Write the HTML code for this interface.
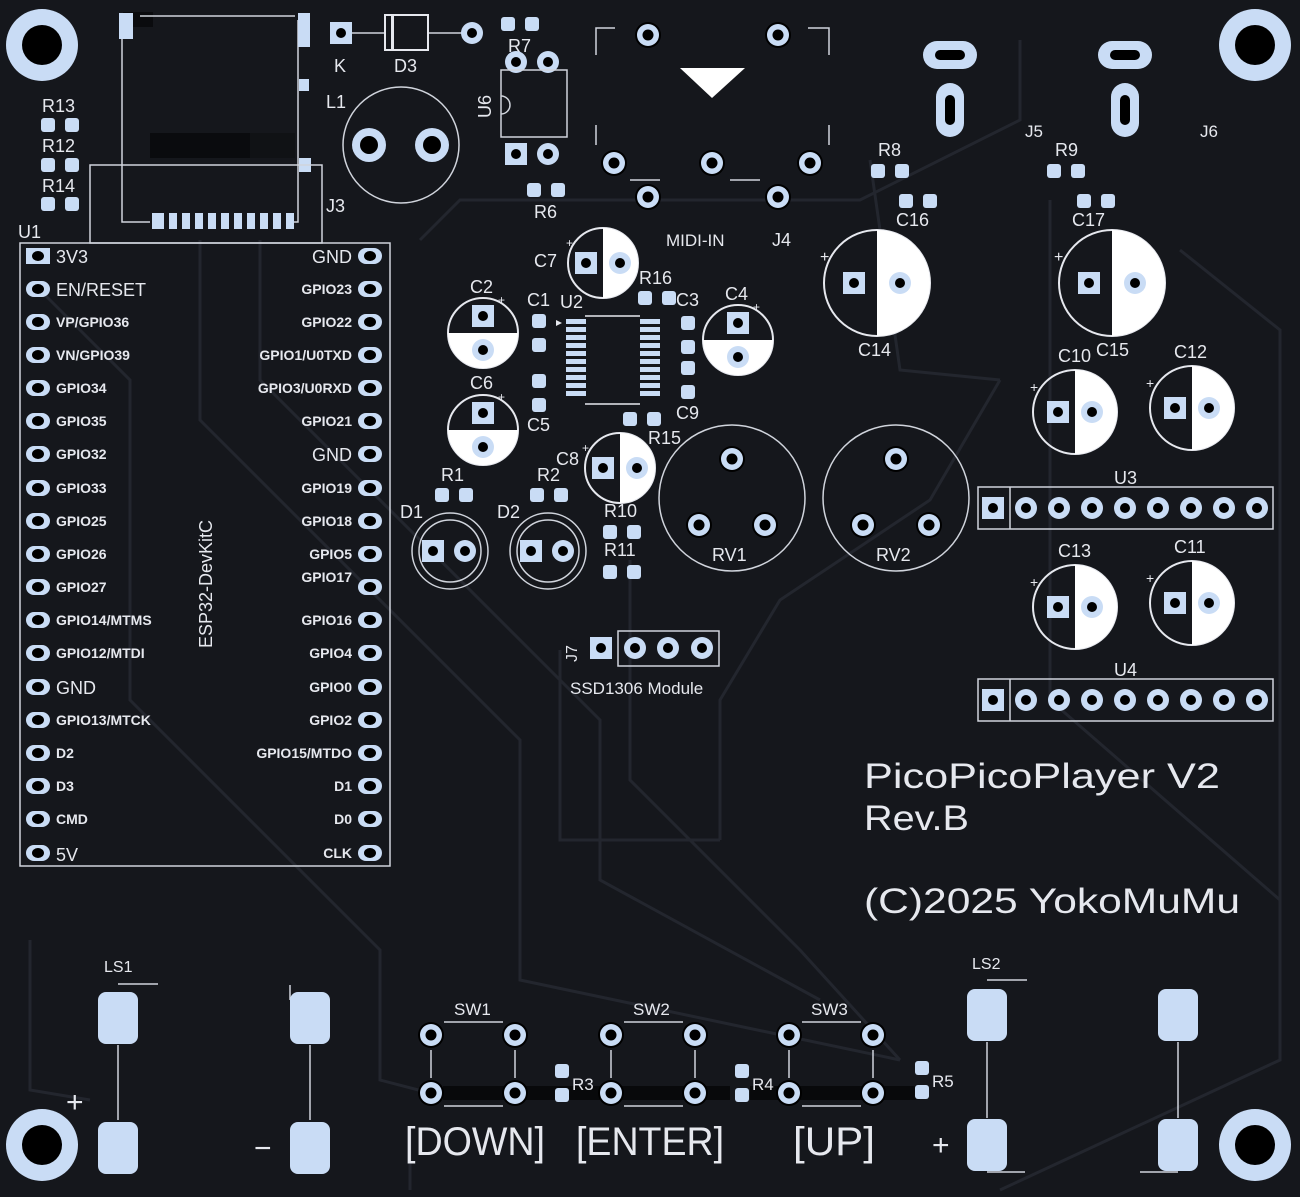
<!DOCTYPE html>
<html><head><meta charset="utf-8"><style>
html,body{margin:0;padding:0;background:#15171c}
svg{display:block}
text{font-family:"Liberation Sans Narrow","Liberation Sans",sans-serif;fill:#e6e8ee}
</style></head><body>
<svg width="1300" height="1197" viewBox="0 0 1300 1197" xmlns="http://www.w3.org/2000/svg">
<defs>
<g id="lp"><rect x="-12" y="-8" width="24" height="16" rx="8" fill="#c9dcf5"/><ellipse rx="6" ry="5" fill="#000"/></g>
<g id="th"><circle r="13" fill="#000"/><circle r="11" fill="#c9dcf5"/><circle r="5.5" fill="#000"/></g>
<g id="sq"><rect x="-11" y="-11" width="22" height="22" fill="#c9dcf5"/><circle r="5" fill="#000"/></g>
<g id="rd"><circle r="11" fill="#c9dcf5"/><circle r="5" fill="#000"/></g>
<g id="rh"><rect x="-19" y="-7" width="14" height="14" rx="3" fill="#c9dcf5"/><rect x="5" y="-7" width="14" height="14" rx="3" fill="#c9dcf5"/></g>
<g id="rv"><rect x="-7" y="-19" width="14" height="14" rx="3" fill="#c9dcf5"/><rect x="-7" y="5" width="14" height="14" rx="3" fill="#c9dcf5"/></g>
<g id="cv"><circle r="35" fill="none" stroke="#e6e8ee" stroke-width="2"/><path d="M-35 0 A35 35 0 0 0 35 0Z" fill="#fff"/><use href="#sq" y="-17"/><use href="#rd" y="17"/></g>
<g id="ch"><circle r="35" fill="none" stroke="#e6e8ee" stroke-width="2"/><path d="M0 -35 A35 35 0 0 1 0 35Z" fill="#fff"/><use href="#sq" x="-17"/><use href="#rd" x="17"/></g>
<g id="ch42"><circle r="42" fill="none" stroke="#e6e8ee" stroke-width="2"/><path d="M0 -42 A42 42 0 0 1 0 42Z" fill="#fff"/><use href="#sq" x="-17"/><use href="#rd" x="17"/></g>
<g id="ch53"><circle r="53" fill="none" stroke="#e6e8ee" stroke-width="2"/><path d="M0 -53 A53 53 0 0 1 0 53Z" fill="#fff"/><use href="#sq" x="-23"/><use href="#rd" x="23"/></g>
<g id="mh"><circle r="36" fill="#c9dcf5"/><circle r="20" fill="#000"/></g>
<g id="sp"><rect x="-20" y="-26" width="40" height="52" rx="8" fill="#c9dcf5"/></g>
</defs>
<rect width="1300" height="1197" fill="#15171c"/>
<!-- faint traces -->
<g stroke="#23262e" stroke-width="3" fill="none">
<path d="M40 290 L130 380 L130 700 L380 950 L380 1080 L430 1093"/>
<path d="M200 240 L200 420 L520 740 L520 980 L900 1060"/>
<path d="M260 240 L260 380 L600 720 L600 880 L820 1000"/>
<path d="M420 240 L460 200 L860 200 L1020 120 L1020 40"/>
<path d="M630 560 L630 780 L800 950 L900 1060"/>
<path d="M1050 200 L1050 700 L1280 900 L1280 1060 L1000 1190"/>
<path d="M720 840 L720 700 L780 600 L930 500 L1000 380"/>
<path d="M870 160 L900 370 L1000 380"/>
<path d="M30 940 L30 1090 L90 1100"/>
<path d="M410 1130 L410 1190"/>
<path d="M1180 250 L1280 330 L1280 900"/>
<path d="M560 650 L560 840 L720 840"/>
</g>
<!-- mounting holes -->
<use href="#mh" x="42" y="45"/><use href="#mh" x="1255" y="45"/>
<use href="#mh" x="42" y="1145"/><use href="#mh" x="1255" y="1145"/>
<!-- SD card -->
<rect x="123" y="12" width="30" height="15" fill="#0a0b0e"/>
<rect x="150" y="133" width="100" height="25" fill="#0a0b0e"/>
<rect x="250" y="133" width="45" height="25" fill="#101215"/>
<path d="M122 30 V222 H150 M298 20 V222 H290" stroke="#d0d4dc" stroke-width="1.5" fill="none"/>
<path d="M140 16 H295" stroke="#d0d4dc" stroke-width="1.5"/>
<rect x="119" y="13" width="14" height="26" fill="#c9dcf5"/>
<rect x="298" y="13" width="12" height="34" fill="#c9dcf5"/>
<rect x="299" y="79" width="10" height="12" fill="#c9dcf5"/>
<rect x="299" y="158" width="12" height="14" fill="#c9dcf5"/>
<g fill="#c9dcf5"><rect x="152" y="213" width="12" height="16"/><rect x="169" y="213" width="8" height="16"/><rect x="182" y="213" width="8" height="16"/><rect x="195" y="213" width="8" height="16"/><rect x="208" y="213" width="8" height="16"/><rect x="221" y="213" width="8" height="16"/><rect x="234" y="213" width="8" height="16"/><rect x="247" y="213" width="8" height="16"/><rect x="260" y="213" width="8" height="16"/><rect x="273" y="213" width="8" height="16"/><rect x="286" y="213" width="8" height="16"/></g>
<rect x="90" y="165" width="232" height="78" fill="none" stroke="#d0d4dc" stroke-width="1.5"/>
<text x="326" y="212" font-size="18">J3</text>
<!-- R13 R12 R14 -->
<text x="42" y="112" font-size="18">R13</text><use href="#rh" x="60" y="125"/>
<text x="42" y="152" font-size="18">R12</text><use href="#rh" x="60" y="165"/>
<text x="42" y="192" font-size="18">R14</text><use href="#rh" x="60" y="204"/>
<text x="18" y="238" font-size="18">U1</text>
<!-- ESP32 -->
<rect x="20" y="243" width="370" height="623" fill="none" stroke="#d0d4dc" stroke-width="1.5"/>
<rect x="26" y="248" width="24" height="16" fill="#c9dcf5"/><ellipse cx="38" cy="256" rx="6" ry="5" fill="#000"/>
<use href="#lp" x="38" y="289"/><use href="#lp" x="38" y="322"/><use href="#lp" x="38" y="355"/><use href="#lp" x="38" y="388"/><use href="#lp" x="38" y="421"/><use href="#lp" x="38" y="454"/><use href="#lp" x="38" y="488"/><use href="#lp" x="38" y="521"/><use href="#lp" x="38" y="554"/><use href="#lp" x="38" y="587"/><use href="#lp" x="38" y="620"/><use href="#lp" x="38" y="653"/><use href="#lp" x="38" y="687"/><use href="#lp" x="38" y="720"/><use href="#lp" x="38" y="753"/><use href="#lp" x="38" y="786"/><use href="#lp" x="38" y="819"/><use href="#lp" x="38" y="853"/>
<use href="#lp" x="370" y="256"/><use href="#lp" x="370" y="289"/><use href="#lp" x="370" y="322"/><use href="#lp" x="370" y="355"/><use href="#lp" x="370" y="388"/><use href="#lp" x="370" y="421"/><use href="#lp" x="370" y="454"/><use href="#lp" x="370" y="488"/><use href="#lp" x="370" y="521"/><use href="#lp" x="370" y="554"/><use href="#lp" x="370" y="587"/><use href="#lp" x="370" y="620"/><use href="#lp" x="370" y="653"/><use href="#lp" x="370" y="687"/><use href="#lp" x="370" y="720"/><use href="#lp" x="370" y="753"/><use href="#lp" x="370" y="786"/><use href="#lp" x="370" y="819"/><use href="#lp" x="370" y="853"/>
<g font-size="14" font-weight="bold">
<text x="56" y="263" font-size="18" font-weight="normal">3V3</text>
<text x="56" y="296" font-size="18" font-weight="normal">EN/RESET</text>
<text x="56" y="327">VP/GPIO36</text><text x="56" y="360">VN/GPIO39</text><text x="56" y="393">GPIO34</text><text x="56" y="426">GPIO35</text><text x="56" y="459">GPIO32</text><text x="56" y="493">GPIO33</text><text x="56" y="526">GPIO25</text><text x="56" y="559">GPIO26</text><text x="56" y="592">GPIO27</text><text x="56" y="625">GPIO14/MTMS</text><text x="56" y="658">GPIO12/MTDI</text>
<text x="56" y="694" font-size="18" font-weight="normal">GND</text>
<text x="56" y="725">GPIO13/MTCK</text><text x="56" y="758">D2</text><text x="56" y="791">D3</text><text x="56" y="824">CMD</text>
<text x="56" y="861" font-size="18" font-weight="normal">5V</text>
</g>
<g font-size="14" font-weight="bold" text-anchor="end">
<text x="352" y="263" font-size="18" font-weight="normal">GND</text>
<text x="352" y="294">GPIO23</text><text x="352" y="327">GPIO22</text><text x="352" y="360">GPIO1/U0TXD</text><text x="352" y="393">GPIO3/U0RXD</text><text x="352" y="426">GPIO21</text>
<text x="352" y="461" font-size="18" font-weight="normal">GND</text>
<text x="352" y="493">GPIO19</text><text x="352" y="526">GPIO18</text><text x="352" y="559">GPIO5</text><text x="352" y="582">GPIO17</text><text x="352" y="625">GPIO16</text><text x="352" y="658">GPIO4</text><text x="352" y="692">GPIO0</text><text x="352" y="725">GPIO2</text><text x="352" y="758">GPIO15/MTDO</text><text x="352" y="791">D1</text><text x="352" y="824">D0</text><text x="352" y="858">CLK</text>
</g>
<text x="0" y="0" font-size="18" transform="translate(212,648) rotate(-90)">ESP32-DevKitC</text>
<!-- D3 / K -->
<use href="#sq" x="341" y="33"/><text x="334" y="72" font-size="18">K</text>
<path d="M352 33 H385 M428 33 H462" stroke="#d0d4dc" stroke-width="1.5"/>
<rect x="385" y="15" width="43" height="35" fill="none" stroke="#e6e8ee" stroke-width="2"/><rect x="391" y="15" width="3" height="35" fill="#e6e8ee"/>
<text x="394" y="72" font-size="18">D3</text>
<use href="#rd" x="472" y="33"/>
<use href="#rh" x="520" y="24"/><text x="508" y="52" font-size="18">R7</text>
<use href="#rd" x="516" y="62"/><use href="#rd" x="548" y="62"/>
<rect x="501" y="70" width="66" height="67" fill="none" stroke="#d0d4dc" stroke-width="1.5"/>
<path d="M501 96 A9 9 0 0 1 501 114" fill="none" stroke="#d0d4dc" stroke-width="1.5"/>
<text x="0" y="0" font-size="18" transform="translate(491,118) rotate(-90)">U6</text>
<use href="#sq" x="516" y="154"/><use href="#rd" x="548" y="154"/>
<use href="#rh" x="546" y="190"/><text x="534" y="218" font-size="18">R6</text>
<!-- L1 -->
<text x="326" y="108" font-size="18">L1</text>
<circle cx="401" cy="145" r="58" fill="none" stroke="#d0d4dc" stroke-width="1.5"/>
<circle cx="369" cy="145" r="17" fill="#c9dcf5"/><circle cx="369" cy="145" r="9" fill="#000"/>
<circle cx="432" cy="145" r="17" fill="#c9dcf5"/><circle cx="432" cy="145" r="9" fill="#000"/>
<!-- MIDI J4 -->
<path d="M596 55 V28 H615 M808 28 H829 V55 M596 125 V145 M829 125 V145 M630 180 H660 M730 180 H760" stroke="#d0d4dc" stroke-width="1.5" fill="none"/>
<path d="M680 68 H745 L712 98Z" fill="#fff"/>
<use href="#th" x="648" y="35"/><use href="#th" x="778" y="35"/>
<use href="#th" x="614" y="163"/><use href="#th" x="712" y="163"/><use href="#th" x="810" y="163"/>
<use href="#th" x="648" y="197"/><use href="#th" x="778" y="197"/>
<text x="666" y="246" font-size="17">MIDI-IN</text><text x="772" y="246" font-size="18">J4</text>
<!-- J5 J6 -->
<rect x="923" y="41" width="54" height="28" rx="14" fill="#c9dcf5"/><rect x="935" y="50" width="30" height="10" rx="5" fill="#000"/>
<rect x="936" y="83" width="28" height="54" rx="14" fill="#c9dcf5"/><rect x="945" y="95" width="10" height="30" rx="5" fill="#000"/>
<rect x="1098" y="41" width="54" height="28" rx="14" fill="#c9dcf5"/><rect x="1110" y="50" width="30" height="10" rx="5" fill="#000"/>
<rect x="1111" y="83" width="28" height="54" rx="14" fill="#c9dcf5"/><rect x="1120" y="95" width="10" height="30" rx="5" fill="#000"/>
<text x="1025" y="137" font-size="17">J5</text><text x="1200" y="137" font-size="17">J6</text>
<text x="878" y="156" font-size="18">R8</text><use href="#rh" x="890" y="171"/>
<use href="#rh" x="918" y="201"/><text x="896" y="226" font-size="18">C16</text>
<text x="1055" y="156" font-size="18">R9</text><use href="#rh" x="1066" y="171"/>
<use href="#rh" x="1096" y="201"/><text x="1072" y="226" font-size="18">C17</text>
<!-- big caps -->
<use href="#ch53" x="877" y="283"/><text x="858" y="356" font-size="18">C14</text><text x="820" y="262" font-size="16">+</text>
<use href="#ch53" x="1112" y="283"/><text x="1096" y="356" font-size="18">C15</text><text x="1054" y="262" font-size="16">+</text>
<text x="1058" y="362" font-size="18">C10</text><use href="#ch42" x="1075" y="412"/><text x="1030" y="392" font-size="14">+</text>
<text x="1174" y="358" font-size="18">C12</text><use href="#ch42" x="1192" y="408"/><text x="1146" y="388" font-size="14">+</text>
<text x="1058" y="557" font-size="18">C13</text><use href="#ch42" x="1075" y="607"/><text x="1030" y="587" font-size="14">+</text>
<text x="1174" y="553" font-size="18">C11</text><use href="#ch42" x="1192" y="603"/><text x="1146" y="583" font-size="14">+</text>
<!-- U3 U4 -->
<text x="1114" y="484" font-size="18">U3</text>
<rect x="978" y="487" width="295" height="42" fill="none" stroke="#d0d4dc" stroke-width="1.5"/><path d="M1010 487 V529" stroke="#d0d4dc" stroke-width="1.5"/>
<use href="#sq" x="993" y="508"/><use href="#rd" x="1026" y="508"/><use href="#rd" x="1059" y="508"/><use href="#rd" x="1092" y="508"/><use href="#rd" x="1125" y="508"/><use href="#rd" x="1158" y="508"/><use href="#rd" x="1191" y="508"/><use href="#rd" x="1224" y="508"/><use href="#rd" x="1257" y="508"/>
<text x="1114" y="676" font-size="18">U4</text>
<rect x="978" y="679" width="295" height="42" fill="none" stroke="#d0d4dc" stroke-width="1.5"/><path d="M1010 679 V721" stroke="#d0d4dc" stroke-width="1.5"/>
<use href="#sq" x="993" y="700"/><use href="#rd" x="1026" y="700"/><use href="#rd" x="1059" y="700"/><use href="#rd" x="1092" y="700"/><use href="#rd" x="1125" y="700"/><use href="#rd" x="1158" y="700"/><use href="#rd" x="1191" y="700"/><use href="#rd" x="1224" y="700"/><use href="#rd" x="1257" y="700"/>
<!-- RV -->
<circle cx="732" cy="498" r="73" fill="none" stroke="#d0d4dc" stroke-width="1.5"/>
<use href="#th" x="732" y="459"/><use href="#th" x="699" y="525"/><use href="#th" x="765" y="525"/>
<text x="712" y="561" font-size="18">RV1</text>
<circle cx="896" cy="498" r="73" fill="none" stroke="#d0d4dc" stroke-width="1.5"/>
<use href="#th" x="896" y="459"/><use href="#th" x="863" y="525"/><use href="#th" x="929" y="525"/>
<text x="876" y="561" font-size="18">RV2</text>
<!-- small caps area -->
<text x="534" y="267" font-size="18">C7</text><use href="#ch" x="603" y="263"/><text x="566" y="247" font-size="12">+</text>
<text x="470" y="293" font-size="18">C2</text><use href="#cv" x="483" y="333"/><text x="498" y="304" font-size="12">+</text>
<text x="470" y="389" font-size="18">C6</text><use href="#cv" x="483" y="430"/><text x="498" y="401" font-size="12">+</text>
<text x="725" y="300" font-size="18">C4</text><use href="#cv" x="738" y="340"/><text x="753" y="311" font-size="12">+</text>
<text x="556" y="465" font-size="18">C8</text><use href="#ch" x="620" y="468"/><text x="582" y="452" font-size="12">+</text>
<text x="527" y="306" font-size="18">C1</text><use href="#rv" x="539" y="333"/>
<text x="560" y="308" font-size="18">U2</text>
<use href="#rv" x="539" y="393"/><text x="527" y="431" font-size="18">C5</text>
<text x="639" y="284" font-size="18">R16</text><use href="#rh" x="657" y="298"/>
<text x="676" y="306" font-size="18">C3</text>
<use href="#rv" x="688" y="335"/><use href="#rv" x="688" y="380"/>
<text x="676" y="419" font-size="18">C9</text>
<use href="#rh" x="642" y="419"/><text x="648" y="444" font-size="18">R15</text>
<path d="M585 316 H640 M585 404 H640" stroke="#e6e8ee" stroke-width="1.5"/>
<path d="M556 320 l6 3 l-6 3z" fill="#e6e8ee"/>
<g fill="#c9dcf5">
<rect x="566" y="319" width="20" height="5"/><rect x="566" y="327" width="20" height="5"/><rect x="566" y="335" width="20" height="5"/><rect x="566" y="343" width="20" height="5"/><rect x="566" y="351" width="20" height="5"/><rect x="566" y="359" width="20" height="5"/><rect x="566" y="367" width="20" height="5"/><rect x="566" y="375" width="20" height="5"/><rect x="566" y="383" width="20" height="5"/><rect x="566" y="391" width="20" height="5"/>
<rect x="640" y="319" width="20" height="5"/><rect x="640" y="327" width="20" height="5"/><rect x="640" y="335" width="20" height="5"/><rect x="640" y="343" width="20" height="5"/><rect x="640" y="351" width="20" height="5"/><rect x="640" y="359" width="20" height="5"/><rect x="640" y="367" width="20" height="5"/><rect x="640" y="375" width="20" height="5"/><rect x="640" y="383" width="20" height="5"/><rect x="640" y="391" width="20" height="5"/>
</g>
<!-- R1 R2 D1 D2 -->
<text x="441" y="481" font-size="18">R1</text><use href="#rh" x="454" y="495"/>
<text x="537" y="481" font-size="18">R2</text><use href="#rh" x="549" y="495"/>
<text x="400" y="518" font-size="18">D1</text>
<circle cx="450" cy="551" r="38" fill="none" stroke="#d0d4dc" stroke-width="1.5"/><circle cx="450" cy="551" r="31" fill="none" stroke="#d0d4dc" stroke-width="1.5"/>
<use href="#sq" x="433" y="551"/><use href="#rd" x="465" y="551"/>
<text x="497" y="518" font-size="18">D2</text>
<circle cx="548" cy="551" r="38" fill="none" stroke="#d0d4dc" stroke-width="1.5"/><circle cx="548" cy="551" r="31" fill="none" stroke="#d0d4dc" stroke-width="1.5"/>
<use href="#sq" x="531" y="551"/><use href="#rd" x="563" y="551"/>
<use href="#rh" x="622" y="532"/><text x="604" y="517" font-size="18">R10</text>
<text x="604" y="556" font-size="18">R11</text><use href="#rh" x="622" y="572"/>
<!-- J7 -->
<text x="0" y="0" font-size="16" transform="translate(577,662) rotate(-90)">J7</text>
<rect x="618" y="631" width="101" height="35" fill="none" stroke="#d0d4dc" stroke-width="1.5"/>
<use href="#sq" x="601" y="648"/><use href="#rd" x="635" y="648"/><use href="#rd" x="668" y="648"/><use href="#rd" x="702" y="648"/>
<text x="570" y="694" font-size="17">SSD1306 Module</text>
<!-- titles -->
<g style="font-family:'DejaVu Sans',sans-serif" font-size="35">
<text x="864" y="788" textLength="356" lengthAdjust="spacingAndGlyphs">PicoPicoPlayer V2</text>
<text x="864" y="830" textLength="105" lengthAdjust="spacingAndGlyphs">Rev.B</text>
<text x="864" y="913" textLength="376" lengthAdjust="spacingAndGlyphs">(C)2025 YokoMuMu</text>
</g>
<!-- speakers -->
<text x="104" y="972" font-size="16">LS1</text>
<path d="M118 984 H158 M118 1045 V1120 M310 1045 V1120 M290 985 V1000" stroke="#d0d4dc" stroke-width="1.5"/>
<use href="#sp" x="118" y="1018"/><use href="#sp" x="310" y="1018"/><use href="#sp" x="118" y="1148"/><use href="#sp" x="310" y="1148"/>
<text x="66" y="1112" font-size="30">+</text><text x="254" y="1158" font-size="30">−</text>
<text x="972" y="969" font-size="16">LS2</text>
<path d="M987 980 H1027 M987 1042 V1118 M1178 1042 V1118 M987 1172 H1025 M1178 1172 H1140" stroke="#d0d4dc" stroke-width="1.5"/>
<use href="#sp" x="987" y="1015"/><use href="#sp" x="1178" y="1015"/><use href="#sp" x="987" y="1145"/><use href="#sp" x="1178" y="1145"/>
<text x="932" y="1155" font-size="30">+</text>
<!-- switches -->
<path d="M443 1093 H730 M750 1093 H920" stroke="#08090b" stroke-width="14"/>
<g stroke="#d0d4dc" stroke-width="1.5">
<path d="M444 1022 H503 M431 1050 V1078 M515 1050 V1078 M444 1106 H503"/>
<path d="M624 1022 H683 M611 1050 V1078 M695 1050 V1078 M624 1106 H683"/>
<path d="M802 1022 H861 M789 1050 V1078 M873 1050 V1078 M802 1106 H861"/>
</g>
<text x="454" y="1015" font-size="17">SW1</text><text x="633" y="1015" font-size="17">SW2</text><text x="811" y="1015" font-size="17">SW3</text>
<use href="#th" x="431" y="1035"/><use href="#th" x="515" y="1035"/><use href="#th" x="431" y="1093"/><use href="#th" x="515" y="1093"/>
<use href="#th" x="611" y="1035"/><use href="#th" x="695" y="1035"/><use href="#th" x="611" y="1093"/><use href="#th" x="695" y="1093"/>
<use href="#th" x="789" y="1035"/><use href="#th" x="873" y="1035"/><use href="#th" x="789" y="1093"/><use href="#th" x="873" y="1093"/>
<use href="#rv" x="562" y="1083"/><text x="572" y="1090" font-size="17">R3</text>
<use href="#rv" x="742" y="1083"/><text x="752" y="1090" font-size="17">R4</text>
<use href="#rv" x="922" y="1080"/><text x="932" y="1087" font-size="17">R5</text>
<g font-size="40" style="font-family:'DejaVu Sans',sans-serif">
<text x="405" y="1155" textLength="140" lengthAdjust="spacingAndGlyphs">[DOWN]</text>
<text x="576" y="1155" textLength="148" lengthAdjust="spacingAndGlyphs">[ENTER]</text>
<text x="793" y="1155" textLength="82" lengthAdjust="spacingAndGlyphs">[UP]</text>
</g>
</svg>
</body></html>
